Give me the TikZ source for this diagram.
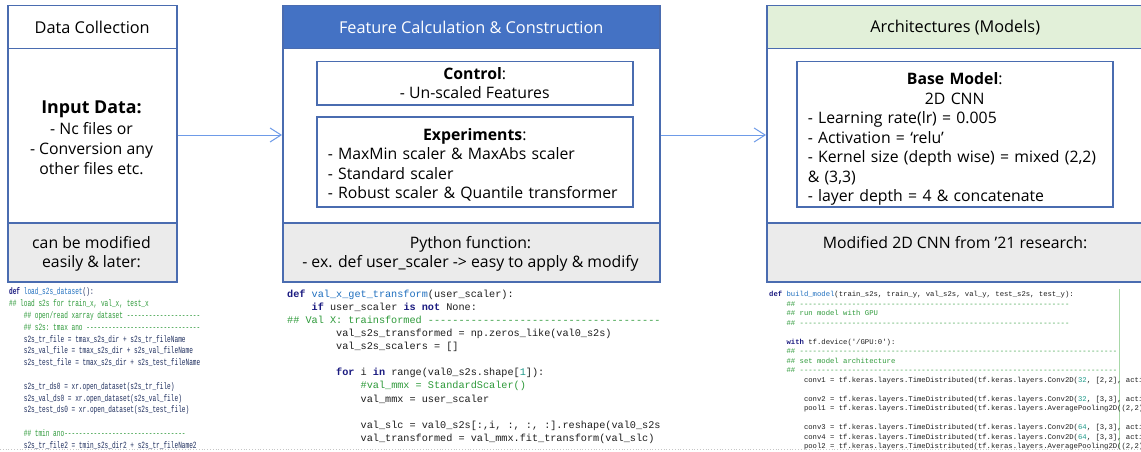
\documentclass[tikz,border=0pt]{standalone}
\usepackage{fontspec}
\setmainfont{Open Sans}
\setmonofont{Liberation Mono}
\usetikzlibrary{arrows.meta}
\definecolor{bord}{HTML}{4A6CB0}
\definecolor{hblue}{HTML}{4472C4}
\definecolor{hgreen}{HTML}{E2F0D9}
\definecolor{greyf}{HTML}{EBEBEB}
\definecolor{arrc}{HTML}{6E9BE8}
\definecolor{kwc}{HTML}{1A1A80}
\definecolor{fnc}{HTML}{1F6FBF}
\definecolor{cmc}{HTML}{2E9A3A}
\definecolor{numc}{HTML}{1F9A8A}
\definecolor{codec}{HTML}{1E1E1E}
\definecolor{codeA}{HTML}{1F2F5F}
\definecolor{gline}{HTML}{A8D8A8}
\newcommand\kw[1]{\textcolor{kwc}{\bfseries #1}}
\newcommand\fn[1]{\textcolor{fnc}{#1}}
\newcommand\cm[1]{\textcolor{cmc}{#1}}
\newcommand\nm[1]{\textcolor{numc}{#1}}
\newcommand\dsh[1]{\foreach\qq in {1,...,#1}{-\kern0pt}}
\newcommand\ind[1]{\hspace*{#1\fontcharwd\font`x}}
\newcommand\sq{\textquotesingle}
\tikzset{
 panel/.style={draw=bord, line width=1.5pt, anchor=north west, inner sep=0pt},
 hdr/.style={panel, minimum height=43pt, font=\fontsize{16.3}{19}\selectfont},
 bodyp/.style={panel, fill=white, minimum height=174pt},
 foot/.style={panel, fill=greyf, minimum height=59pt},
 inbox/.style={draw=bord, line width=1.5pt, anchor=north west, minimum width=316pt, inner sep=0pt, font=\fontsize{15.8}{19.5}\selectfont},
 txt/.style={inner sep=0pt, align=center, font=\fontsize{15.8}{19.5}\selectfont},
 arr/.style={draw=arrc, line width=1pt, -{Straight Barb[length=11pt,width=14pt,line width=1pt]}},
 code/.style={anchor=north west, inner sep=0pt, align=left, text=codec},
}
\begin{document}
\begin{tikzpicture}[x=1pt,y=-1pt]
\useasboundingbox[fill=white] (0,0) rectangle (1141,452);

% ---------- panel 1 ----------
\node[hdr, fill=white, minimum width=169pt] (h1) at (7,5) {Data Collection};
\node[bodyp, minimum width=169pt] (m1) at (7,48) {};
\node[foot, minimum width=169pt] (f1) at (7,222) {};
\node[txt, font=\fontsize{15.8}{20.2}\selectfont] (m1t) at (91.5,138) {{\fontsize{17.8}{21}\selectfont\bfseries Input Data:}\\- Nc files or\\- Conversion any\\other files etc.};
\node[txt] (f1t) at (91.5,254) {can be modified\\easily \& later:};

% ---------- panel 2 ----------
\node[hdr, fill=hblue, text=white, minimum width=377pt] (h2) at (282,5) {Feature Calculation \& Construction};
\node[bodyp, minimum width=377pt] (m2) at (282,48) {};
\node[foot, minimum width=377pt] (f2) at (282,222) {};
\node[txt] (f2t) at (470.5,254) {Python function:\\- ex. def user\_scaler -> easy to apply \& modify};
\node[inbox, minimum height=43pt, align=center] (ctl) at (316,61) {\textbf{Control}:\\- Un-scaled Features};
\node[inbox, minimum height=90pt, text width=294pt, align=left] (exp) at (316,116) {\makebox[\linewidth]{\rule{0pt}{18pt}\textbf{Experiments}:}\\- MaxMin scaler \& MaxAbs scaler\\- Standard scaler\\- Robust scaler \& Quantile transformer};

% ---------- panel 3 ----------
\node[hdr, fill=hgreen, minimum width=377pt] (h3) at (766,5) {Architectures (Models)};
\node[bodyp, minimum width=377pt] (m3) at (766,48) {};
\node[foot, minimum width=377pt] (f3) at (766,222) {};
\node[txt] (f3t) at (955,243) {Modified 2D CNN from ’21 research:};
\node[inbox, minimum height=145pt, text width=294pt, align=left] (base) at (796,61) {\makebox[\linewidth]{\rule{0pt}{22pt}\textbf{Base Model}:}\\\makebox[\linewidth]{2D CNN}\\- Learning rate(lr) = 0.005\\- Activation = ‘relu’\\- Kernel size (depth wise) = mixed (2,2)\\\& (3,3)\\- layer depth = 4 \& concatenate};

% ---------- connectors ----------
\coordinate (ay) at (0,135);
\draw[arr] (m1.east |- ay) -- (m2.west |- ay);
\draw[arr] (m2.east |- ay) -- (m3.west |- ay);

% ---------- code 1 ----------
\begin{scope}
\clip (7,283) rectangle (282,449);
\begin{scope}[shift={(9,286)}, xscale=0.645, transform shape]
\node[code, text=codeA, font=\ttfamily\fontsize{9.5}{11.8}\selectfont] (c1) at (0,0) {%
\rule{0pt}{8.7pt}\kw{def} \fn{load\_s2s\_dataset}():\\
\cm{\#\# load s2s for train\_x, val\_x, test\_x}\\
\ind{4}\cm{\#\# open/read xarray dataset \dsh{20}}\\
\ind{4}\cm{\#\# s2s: tmax ano \dsh{31}}\\
\ind{4}s2s\_tr\_file = tmax\_s2s\_dir + s2s\_tr\_fileName\\
\ind{4}s2s\_val\_file = tmax\_s2s\_dir + s2s\_val\_fileName\\
\ind{4}s2s\_test\_file = tmax\_s2s\_dir + s2s\_test\_fileName\\[11.8pt]
\ind{4}s2s\_tr\_ds0 = xr.open\_dataset(s2s\_tr\_file)\\
\ind{4}s2s\_val\_ds0 = xr.open\_dataset(s2s\_val\_file)\\
\ind{4}s2s\_test\_ds0 = xr.open\_dataset(s2s\_test\_file)\\[11.8pt]
\ind{4}\cm{\#\# tmin ano\dsh{33}}\\
\ind{4}s2s\_tr\_file2 = tmin\_s2s\_dir2 + s2s\_tr\_fileName2};
\end{scope}
\end{scope}

% ---------- code 2 ----------
\begin{scope}
\clip (282,283) rectangle (659.5,449);
\node[code, font=\ttfamily\fontsize{10.2}{13.1}\selectfont] (c2) at (287,287) {%
\rule{0pt}{10pt}\kw{def} \fn{val\_x\_get\_transform}(user\_scaler):\\
\ind{4}\kw{if} user\_scaler \kw{is} \kw{not} None:\\
\cm{\#\# Val X: trainsformed \dsh{50}}\\
\ind{8}val\_s2s\_transformed = np.zeros\_like(val0\_s2s)\\
\ind{8}val\_s2s\_scalers = []\\[13.1pt]
\ind{8}\kw{for} i \kw{in} range(val0\_s2s.shape[\nm{1}]):\\
\ind{12}\cm{\#val\_mmx = StandardScaler()}\\
\ind{12}val\_mmx = user\_scaler\\[13.1pt]
\ind{12}val\_slc = val0\_s2s[:,i, :, :, :].reshape(val0\_s2s.shape\\
\ind{12}val\_transformed = val\_mmx.fit\_transform(val\_slc)};
\end{scope}

% ---------- code 3 ----------
\begin{scope}
\clip (766,283) rectangle (1141,449);
\draw[gline, line width=0.8pt] (1119,289) -- (1119,449);
\node[code, font=\ttfamily\fontsize{7.25}{9.5}\selectfont] (c3) at (769,289.5) {%
\rule{0pt}{7pt}\kw{def} \fn{build\_model}(train\_s2s, train\_y, val\_s2s, val\_y, test\_s2s, test\_y):\\
\ind{4}\cm{\#\# \dsh{62}}\\
\ind{4}\cm{\#\# run model with GPU}\\
\ind{4}\cm{\#\# \dsh{62}}\\[9.5pt]
\ind{4}\kw{with} tf.device(\sq/GPU:0\sq):\\
\ind{4}\cm{\#\# \dsh{73}}\\
\ind{4}\cm{\#\# set model architecture}\\
\ind{4}\cm{\#\# \dsh{73}}\\
\ind{8}conv1 = tf.keras.layers.TimeDistributed(tf.keras.layers.Conv2D(\nm{32}, [2,2], activation\\[9.5pt]
\ind{8}conv2 = tf.keras.layers.TimeDistributed(tf.keras.layers.Conv2D(\nm{32}, [3,3], activation\\
\ind{8}pool1 = tf.keras.layers.TimeDistributed(tf.keras.layers.AveragePooling2D((2,2)))\\[9.5pt]
\ind{8}conv3 = tf.keras.layers.TimeDistributed(tf.keras.layers.Conv2D(\nm{64}, [3,3], activation\\
\ind{8}conv4 = tf.keras.layers.TimeDistributed(tf.keras.layers.Conv2D(\nm{64}, [3,3], activation\\
\ind{8}pool2 = tf.keras.layers.TimeDistributed(tf.keras.layers.AveragePooling2D((2,2)))};
\end{scope}

\draw[gray!45, dotted, line width=0.8pt] (0,449.5) -- (1141,449.5);
\end{tikzpicture}
\end{document}
